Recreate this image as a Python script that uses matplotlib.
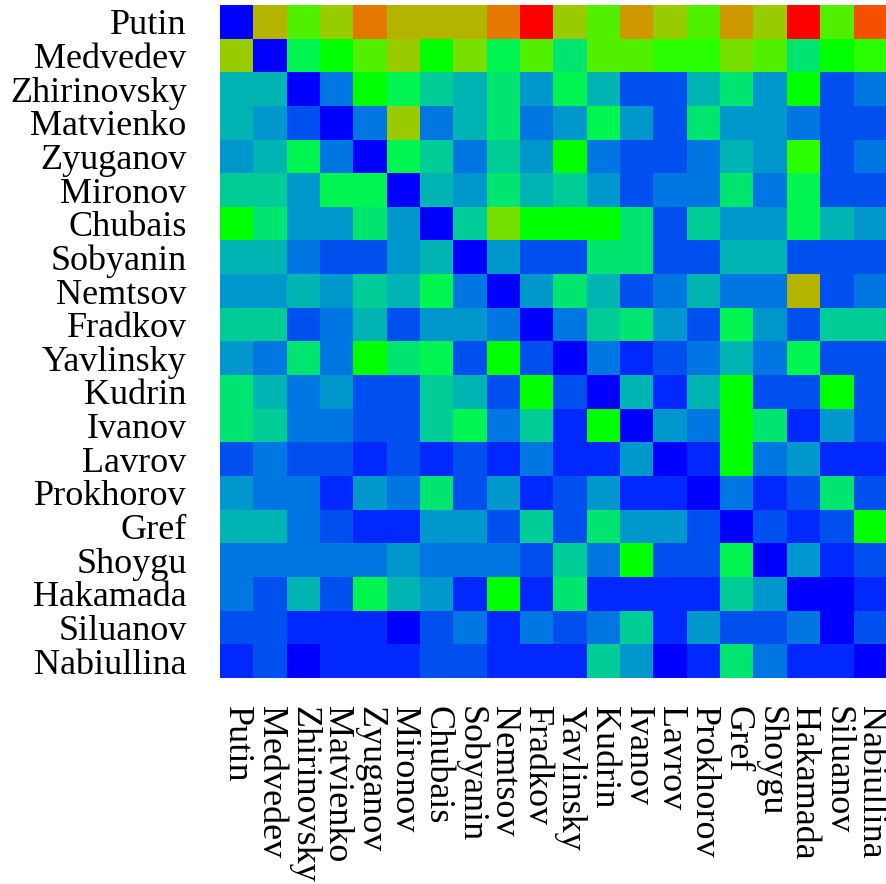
import numpy as np
import matplotlib
matplotlib.use("Agg")
import matplotlib.pyplot as plt
from matplotlib.colors import LinearSegmentedColormap

# names (rows and columns are the same people)
names = ["Putin", "Medvedev", "Zhirinovsky", "Matvienko", "Zyuganov", "Mironov",
         "Chubais", "Sobyanin", "Nemtsov", "Fradkov", "Yavlinsky", "Kudrin",
         "Ivanov", "Lavrov", "Prokhorov", "Gref", "Shoygu", "Hakamada",
         "Siluanov", "Nabiullina"]

# colour level of each cell, 0 = blue ... 18 = red
levels = [
    [0, 14, 11, 13, 16, 14, 14, 14, 16, 18, 13, 11, 15, 13, 11, 15, 13, 18, 11, 17],
    [13, 0, 8, 9, 11, 13, 9, 12, 8, 11, 7, 11, 11, 10, 10, 12, 11, 7, 9, 10],
    [5, 5, 0, 3, 9, 8, 6, 5, 7, 4, 8, 5, 2, 2, 5, 7, 4, 9, 2, 3],
    [5, 4, 2, 0, 3, 13, 3, 5, 7, 3, 4, 8, 4, 2, 7, 4, 4, 3, 2, 2],
    [4, 5, 8, 3, 0, 8, 6, 3, 6, 4, 9, 3, 2, 2, 3, 5, 4, 10, 2, 3],
    [6, 6, 4, 8, 8, 0, 5, 4, 7, 5, 6, 4, 2, 3, 3, 7, 3, 8, 2, 2],
    [9, 7, 4, 4, 7, 4, 0, 6, 12, 9, 9, 9, 7, 2, 6, 4, 4, 8, 5, 4],
    [5, 5, 3, 2, 2, 4, 5, 0, 4, 2, 2, 7, 7, 2, 2, 5, 5, 2, 2, 2],
    [4, 4, 5, 4, 6, 5, 8, 3, 0, 4, 7, 5, 2, 3, 5, 3, 3, 14, 2, 3],
    [6, 6, 2, 3, 5, 2, 4, 4, 3, 0, 3, 6, 7, 4, 2, 8, 4, 2, 6, 6],
    [4, 3, 7, 3, 9, 7, 8, 2, 9, 2, 0, 3, 1, 2, 3, 5, 3, 8, 2, 2],
    [7, 5, 3, 4, 2, 2, 6, 5, 2, 9, 2, 0, 5, 1, 5, 9, 2, 2, 9, 2],
    [7, 6, 3, 3, 2, 2, 6, 8, 3, 6, 1, 9, 0, 4, 3, 9, 7, 1, 4, 2],
    [2, 3, 2, 2, 1, 2, 1, 2, 1, 3, 1, 1, 4, 0, 1, 9, 3, 4, 1, 1],
    [4, 3, 3, 1, 4, 3, 7, 2, 4, 1, 2, 4, 1, 1, 0, 3, 1, 2, 7, 2],
    [5, 5, 3, 2, 1, 1, 4, 4, 2, 6, 2, 7, 4, 4, 2, 0, 2, 1, 2, 9],
    [3, 3, 3, 3, 3, 4, 3, 3, 3, 2, 6, 3, 9, 2, 2, 8, 0, 4, 1, 2],
    [3, 2, 5, 2, 8, 5, 4, 1, 9, 1, 7, 1, 1, 1, 1, 6, 4, 0, 0, 1],
    [2, 2, 1, 1, 1, 0, 2, 3, 1, 3, 2, 3, 6, 1, 4, 2, 2, 3, 0, 2],
    [1, 2, 0, 1, 1, 1, 2, 2, 1, 1, 1, 6, 4, 0, 1, 7, 3, 1, 1, 0],
]

palette = ["#0000ff", "#0028ff", "#0050f0", "#0076e2", "#0098cc", "#00b4b4",
           "#00cc98", "#00e470", "#00f550", "#00ff00", "#2aff00", "#50f000",
           "#78e000", "#98cc00", "#b4b400", "#d09800", "#e67800", "#f55000",
           "#ff0000"]
cmap = LinearSegmentedColormap.from_list("lv", palette, N=len(palette))

fig = plt.figure(figsize=(8.87, 8.84), dpi=100)
ax = fig.add_axes([220 / 887, 1 - 678 / 884, 667 / 887, 673 / 884])
ax.imshow(np.array(levels), cmap=cmap, vmin=-0.5, vmax=18.5,
          interpolation="nearest", aspect="auto")

font = dict(family="Liberation Serif", size=26)
ax.set_xticks(range(len(names)))
ax.set_yticks(range(len(names)))
ax.set_xticklabels(names, rotation=270, **font)
ax.set_yticklabels(names, **font)
ax.tick_params(length=0)
ax.tick_params(axis="y", pad=24)
ax.tick_params(axis="x", pad=20)
for s in ax.spines.values():
    s.set_visible(False)

fig.savefig("out.png", dpi=100)
